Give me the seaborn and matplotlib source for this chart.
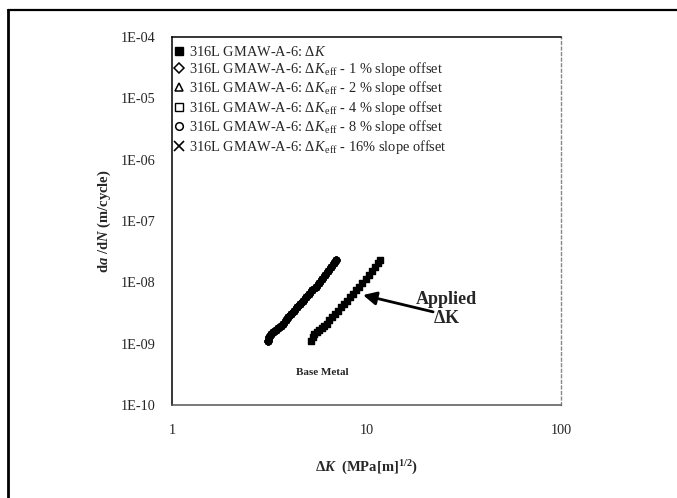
import numpy as np
import pandas as pd
import matplotlib
matplotlib.use("Agg")
import matplotlib.pyplot as plt
from matplotlib.lines import Line2D
import seaborn as sns

# Crack growth data, 316L GMAW-A-6 base metal
dk_applied = [5.20, 5.28, 5.40, 5.56, 5.72, 5.90, 6.06, 6.23, 6.45, 6.66, 6.88, 7.12, 7.38,
              7.63, 7.92, 8.22, 8.52, 8.84, 9.18, 9.53, 9.90, 10.27, 10.65, 11.04, 11.42, 11.80]
dadn_applied = [1.10e-9, 1.30e-9, 1.45e-9, 1.55e-9, 1.65e-9, 1.80e-9, 1.95e-9, 2.10e-9, 2.40e-9,
                2.70e-9, 3.05e-9, 3.45e-9, 3.90e-9, 4.40e-9, 5.00e-9, 5.70e-9, 6.50e-9, 7.40e-9,
                8.50e-9, 9.80e-9, 1.12e-8, 1.30e-8, 1.52e-8, 1.78e-8, 2.05e-8, 2.30e-8]

dk_eff = [3.10, 3.15, 3.22, 3.32, 3.42, 3.52, 3.62, 3.72, 3.85, 3.97, 4.10, 4.25, 4.40,
          4.55, 4.72, 4.90, 5.08, 5.27, 5.47, 5.68, 5.90, 6.12, 6.35, 6.58, 6.80, 7.00]
dadn_eff = dadn_applied

offsets = ["1 %", "2 %", "4 %", "8 %", "16%"]
series_names = ["applied"] + ["eff " + o for o in offsets]

legend_labels = [r"316L GMAW-A-6: $\Delta K$"] + [
    r"316L GMAW-A-6: $\Delta K_{\,\mathrm{eff}}$ - " + o + " slope offset" for o in offsets]

ytick_labels = ["1E-10", "1E-09", "1E-08", "1E-07", "1E-06", "1E-05", "1E-04"]
xtick_labels = ["1", "10", "100"]

rows = []
for k, v in zip(dk_applied, dadn_applied):
    rows.append({"dK": k, "dadN": v, "series": "applied"})
for name in series_names[1:]:
    for k, v in zip(dk_eff, dadn_eff):
        rows.append({"dK": k, "dadN": v, "series": name})
df = pd.DataFrame(rows)

sns.set_style("white")
plt.rcParams["font.family"] = ["Liberation Serif", "DejaVu Serif"]
plt.rcParams["mathtext.fontset"] = "custom"
plt.rcParams["mathtext.rm"] = "Liberation Serif"
plt.rcParams["mathtext.it"] = "Liberation Serif:italic"
plt.rcParams["mathtext.bf"] = "Liberation Serif:bold"
plt.rcParams["mathtext.bfit"] = "Liberation Serif:italic:bold"

fig = plt.figure(figsize=(6.77, 4.98), dpi=100)
ax = fig.add_axes([172 / 677, 93 / 498, 389 / 677, 368 / 498])

# effective-ΔK series collapse onto the same band
for name in series_names[1:]:
    sub = df[df.series == name]
    sns.scatterplot(data=sub, x="dK", y="dadN", ax=ax, marker="o", s=22,
                    facecolor="black", edgecolor="black", linewidth=1.0, legend=False, zorder=3)
sub = df[df.series == "applied"]
sns.scatterplot(data=sub, x="dK", y="dadN", ax=ax, marker="s", s=20,
                color="black", edgecolor="black", linewidth=1.0, legend=False, zorder=4)

ax.set_xscale("log")
ax.set_yscale("log")
ax.set_xlim(1, 100)
ax.set_ylim(1e-10, 1e-4)

ax.set_yticks([10.0 ** e for e in range(-10, -3)])
ax.set_yticklabels(ytick_labels)
ax.set_xticks([1, 10, 100])
ax.set_xticklabels(xtick_labels)
ax.tick_params(axis="both", which="major", labelsize=10.3, length=4, width=1.2,
               direction="in", color="black")
ax.tick_params(axis="y", which="major", pad=12)
ax.tick_params(axis="x", which="major", pad=14)
ax.tick_params(axis="both", which="minor", length=2.5, width=0.8, direction="in", color="#444444")
ax.yaxis.set_minor_locator(matplotlib.ticker.NullLocator())

for side in ["left", "top"]:
    ax.spines[side].set_color("black")
    ax.spines[side].set_linewidth(1.1)
ax.spines["bottom"].set_color("#555555")
ax.spines["bottom"].set_linewidth(1.1)
ax.spines["right"].set_color("#888888")
ax.spines["right"].set_linestyle((0, (2, 2)))
ax.spines["right"].set_linewidth(1.0)

ax.set_xlabel(r"$\mathbf{\Delta}\mathbfit{K}$  (MPa[m]$^{\mathbf{1/2}}$)", fontsize=10.5,
              fontweight="bold")
ax.xaxis.set_label_coords(0.5, -0.146)
ax.set_ylabel(r"d$\mathbfit{a}$ /d$\mathbfit{N}$ (m/cycle)", fontsize=10.5, fontweight="bold")
ax.yaxis.set_label_coords(-0.152, 0.5)

handles = [Line2D([], [], linestyle="none", marker="s", markersize=6, markerfacecolor="black",
                  markeredgecolor="black"),
           Line2D([], [], linestyle="none", marker="D", markersize=5.5, markerfacecolor="white",
                  markeredgecolor="black", markeredgewidth=1.1),
           Line2D([], [], linestyle="none", marker="^", markersize=5.5, markerfacecolor="white",
                  markeredgecolor="black", markeredgewidth=1.1),
           Line2D([], [], linestyle="none", marker="s", markersize=6, markerfacecolor="white",
                  markeredgecolor="black", markeredgewidth=1.0),
           Line2D([], [], linestyle="none", marker="o", markersize=5.5, markerfacecolor="white",
                  markeredgecolor="black", markeredgewidth=1.1),
           Line2D([], [], linestyle="none", marker="x", markersize=7, markeredgecolor="black",
                  markeredgewidth=1.2)]
leg = ax.legend(handles, legend_labels, loc="upper left", bbox_to_anchor=(-0.02, 1.003),
                frameon=False, fontsize=10.4, handlelength=0.8, handletextpad=0.3,
                labelspacing=0.1, borderaxespad=0.2)

# arrow pointing at the applied ΔK curve
ax.annotate("", xy=(9.6, 6.2e-9), xytext=(22.0, 3.3e-9),
            arrowprops=dict(arrowstyle="-|>,head_length=0.8,head_width=0.4", color="black",
                            lw=2.0, shrinkA=0, shrinkB=0))
ax.text(25.8, 3.7e-9, "Applied\n" + r"$\mathbf{\Delta}$K", fontsize=13, fontweight="bold",
        ha="center", va="center", linespacing=1.15)
ax.text(5.9, 3.45e-10, "Base Metal", fontsize=8, fontweight="bold", ha="center", va="center")

# page frame
fig.add_artist(Line2D([8 / 677, 8 / 677], [0, 1 - 10 / 498], color="black", lw=2.0))
fig.add_artist(Line2D([8 / 677, 1], [1 - 10 / 498, 1 - 10 / 498], color="black", lw=1.6))

fig.savefig("out.png", dpi=100)
